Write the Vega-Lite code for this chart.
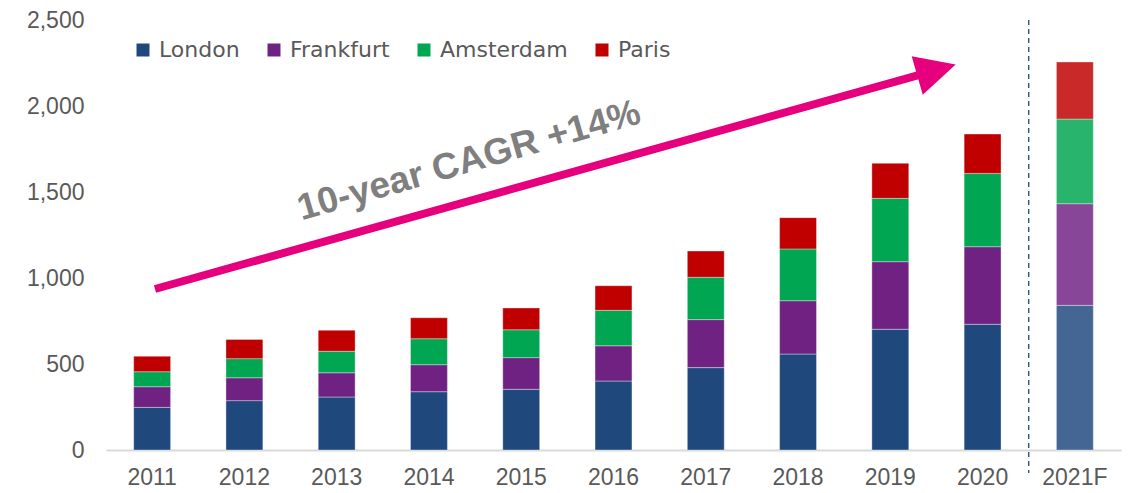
{
  "$schema": "https://vega.github.io/schema/vega-lite/v6.json",
  "width": 1015,
  "height": 430,
  "autosize": "none",
  "padding": {"left": 106, "top": 20, "right": 7, "bottom": 43},
  "background": "white",
  "config": {"view": {"stroke": null}},
  "datasets": {
    "bars": [
      {"year": "2011", "city": "London", "value": 248},
      {"year": "2011", "city": "Frankfurt", "value": 120},
      {"year": "2011", "city": "Amsterdam", "value": 87},
      {"year": "2011", "city": "Paris", "value": 90},
      {"year": "2012", "city": "London", "value": 287},
      {"year": "2012", "city": "Frankfurt", "value": 133},
      {"year": "2012", "city": "Amsterdam", "value": 111},
      {"year": "2012", "city": "Paris", "value": 112},
      {"year": "2013", "city": "London", "value": 308},
      {"year": "2013", "city": "Frankfurt", "value": 141},
      {"year": "2013", "city": "Amsterdam", "value": 125},
      {"year": "2013", "city": "Paris", "value": 122},
      {"year": "2014", "city": "London", "value": 339},
      {"year": "2014", "city": "Frankfurt", "value": 157},
      {"year": "2014", "city": "Amsterdam", "value": 151},
      {"year": "2014", "city": "Paris", "value": 122},
      {"year": "2015", "city": "London", "value": 353},
      {"year": "2015", "city": "Frankfurt", "value": 184},
      {"year": "2015", "city": "Amsterdam", "value": 162},
      {"year": "2015", "city": "Paris", "value": 127},
      {"year": "2016", "city": "London", "value": 401},
      {"year": "2016", "city": "Frankfurt", "value": 205},
      {"year": "2016", "city": "Amsterdam", "value": 206},
      {"year": "2016", "city": "Paris", "value": 143},
      {"year": "2017", "city": "London", "value": 479},
      {"year": "2017", "city": "Frankfurt", "value": 279},
      {"year": "2017", "city": "Amsterdam", "value": 246},
      {"year": "2017", "city": "Paris", "value": 153},
      {"year": "2018", "city": "London", "value": 558},
      {"year": "2018", "city": "Frankfurt", "value": 310},
      {"year": "2018", "city": "Amsterdam", "value": 301},
      {"year": "2018", "city": "Paris", "value": 182},
      {"year": "2019", "city": "London", "value": 702},
      {"year": "2019", "city": "Frankfurt", "value": 393},
      {"year": "2019", "city": "Amsterdam", "value": 368},
      {"year": "2019", "city": "Paris", "value": 204},
      {"year": "2020", "city": "London", "value": 731},
      {"year": "2020", "city": "Frankfurt", "value": 451},
      {"year": "2020", "city": "Amsterdam", "value": 426},
      {"year": "2020", "city": "Paris", "value": 229},
      {"year": "2021F", "city": "London", "value": 841},
      {"year": "2021F", "city": "Frankfurt", "value": 591},
      {"year": "2021F", "city": "Amsterdam", "value": 492},
      {"year": "2021F", "city": "Paris", "value": 332}
    ],
    "divider": [{"pos": 10, "top": 2500, "bottom": -134}],
    "arrow": [{"pos": 0.531, "level": 936}, {"pos": 9.0, "level": 2209}],
    "head": [{"pos": 9.0, "level": 2209}],
    "label": [{"pos": 3.934, "level": 1680, "text": "10-year CAGR +14%"}]
  },
  "resolve": {"scale": {"x": "independent"}, "axis": {"x": "independent", "y": "independent"}},
  "layer": [
    {
      "data": {"name": "bars"},
      "transform": [
        {"calculate": "indexof(['London', 'Frankfurt', 'Amsterdam', 'Paris'], datum.city)", "as": "stackOrder"}
      ],
      "mark": {"type": "bar", "stroke": "#ffffff", "strokeWidth": 0.6, "strokeOpacity": 0.6},
      "encoding": {
        "x": {
          "field": "year", "type": "nominal", "sort": null,
          "scale": {"paddingInner": 0.6, "paddingOuter": 0.3},
          "axis": {
            "title": null, "labelAngle": 0, "ticks": false,
            "domainColor": "#D9D9D9", "domainWidth": 2,
            "labelFont": "Liberation Sans", "labelFontSize": 23, "labelColor": "#595959",
            "labelPadding": 16
          }
        },
        "y": {
          "field": "value", "type": "quantitative", "stack": "zero",
          "scale": {"domain": [0, 2500], "nice": false},
          "axis": {
            "title": null, "values": [0, 500, 1000, 1500, 2000, 2500], "format": ",d",
            "grid": false, "domain": false, "ticks": false,
            "labelFont": "Liberation Sans", "labelFontSize": 23, "labelColor": "#595959",
            "labelPadding": 22
          }
        },
        "order": {"field": "stackOrder", "type": "quantitative", "sort": "ascending"},
        "color": {
          "field": "city", "type": "nominal",
          "scale": {
            "domain": ["London", "Frankfurt", "Amsterdam", "Paris"],
            "range": ["#1F497D", "#702283", "#00A651", "#C00000"]
          },
          "legend": {
            "title": null, "orient": "none", "direction": "horizontal",
            "legendX": 26, "legendY": 19,
            "symbolType": "square", "symbolSize": 169, "symbolStrokeWidth": 0, "symbolOpacity": 1,
            "labelFont": "DejaVu Sans", "labelFontSize": 22, "labelColor": "#595959",
            "labelOffset": 5, "columnPadding": 23
          }
        },
        "fillOpacity": {
          "condition": {"test": "datum.year === '2021F'", "value": 0.84},
          "value": 1
        }
      }
    },
    {
      "layer": [
        {
          "data": {"name": "divider"},
          "mark": {"type": "rule", "color": "#1F497D", "strokeWidth": 1.3, "strokeDash": [5, 4]},
          "encoding": {
            "x": {"field": "pos", "type": "quantitative", "scale": {"domain": [0, 11], "nice": false, "zero": true}, "axis": null},
            "y": {"field": "top", "type": "quantitative", "scale": {"domain": [0, 2500], "nice": false}, "axis": null},
            "y2": {"field": "bottom"}
          }
        },
        {
          "data": {"name": "arrow"},
          "mark": {"type": "line", "color": "#E6007E", "strokeWidth": 8, "strokeCap": "butt"},
          "encoding": {
            "x": {"field": "pos", "type": "quantitative", "scale": {"domain": [0, 11], "nice": false, "zero": true}, "axis": null},
            "y": {"field": "level", "type": "quantitative", "scale": {"domain": [0, 2500], "nice": false}, "axis": null}
          }
        },
        {
          "data": {"name": "head"},
          "mark": {"type": "point", "shape": "M -1 -1 L 1 0 L -1 1 Z", "size": 1600, "filled": true, "color": "#E6007E", "opacity": 1, "angle": 344},
          "encoding": {
            "x": {"field": "pos", "type": "quantitative", "scale": {"domain": [0, 11], "nice": false, "zero": true}, "axis": null},
            "y": {"field": "level", "type": "quantitative", "scale": {"domain": [0, 2500], "nice": false}, "axis": null}
          }
        },
        {
          "data": {"name": "label"},
          "mark": {"type": "text", "font": "Liberation Sans", "fontWeight": "bold", "fontSize": 37, "color": "#7F7F7F", "angle": 344, "align": "center", "baseline": "middle"},
          "encoding": {
            "x": {"field": "pos", "type": "quantitative", "scale": {"domain": [0, 11], "nice": false, "zero": true}, "axis": null},
            "y": {"field": "level", "type": "quantitative", "scale": {"domain": [0, 2500], "nice": false}, "axis": null},
            "text": {"field": "text"}
          }
        }
      ]
    }
  ]
}
